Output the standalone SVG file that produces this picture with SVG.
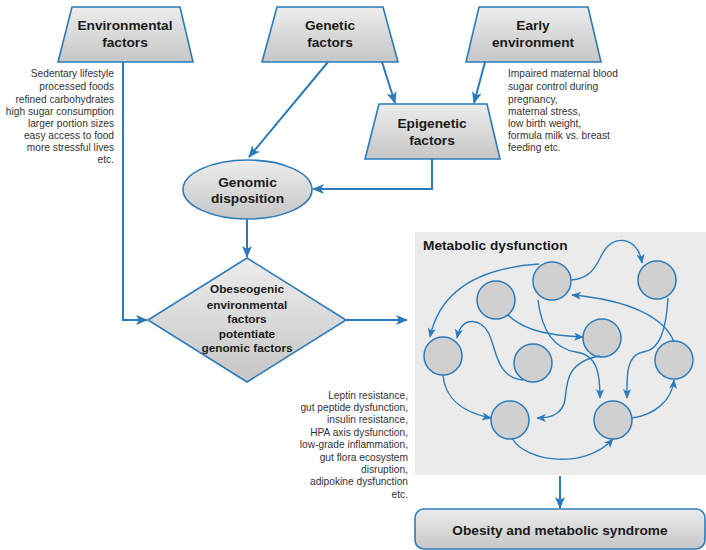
<svg xmlns="http://www.w3.org/2000/svg" width="706" height="550" viewBox="0 0 706 550">
<defs>
<linearGradient id="g" x1="0" y1="0" x2="0" y2="1">
<stop offset="0" stop-color="#ededed"/>
<stop offset="1" stop-color="#c6c6c6"/>
</linearGradient>
<marker id="ah" viewBox="0 0 12 10" refX="11" refY="5" markerWidth="12" markerHeight="10" markerUnits="userSpaceOnUse" orient="auto">
<path d="M0,0 L12,5 L0,10 L3,5 Z" fill="#2b7bba"/>
</marker>
<marker id="as" viewBox="0 0 12 10" refX="11" refY="5" markerWidth="10" markerHeight="8" markerUnits="userSpaceOnUse" orient="auto">
<path d="M0,0 L12,5 L0,10 L3,5 Z" fill="#2b7bba"/>
</marker>
</defs>
<style>
.sh{fill:url(#g);stroke:#2b7bba;stroke-width:1.6}
.c{fill:#d0d0d0;stroke:#2b7bba;stroke-width:1.5}
.lbl{font-family:"Liberation Sans",Arial,sans-serif;font-weight:bold;font-size:13.7px;fill:#1a1a1a;text-anchor:middle}
.dl{font-family:"Liberation Sans",Arial,sans-serif;font-weight:bold;font-size:11.8px;fill:#1a1a1a;text-anchor:middle}
.ttl{font-family:"Liberation Sans",Arial,sans-serif;font-weight:bold;font-size:13.7px;fill:#1a1a1a;text-anchor:start}
.sm{font-family:"Liberation Sans",Arial,sans-serif;font-size:10.2px;fill:#333}
.cn{fill:none;stroke:#2b7bba;stroke-width:2;marker-end:url(#ah)}
.ci{fill:none;stroke:#2b7bba;stroke-width:1.4;marker-end:url(#as)}
</style>
<rect x="415" y="232" width="291" height="243" fill="#ebebeb"/>
<g id="env">
<polygon class="sh" points="72,7 180,7 193,62 58,62"/>
<text class="lbl" x="125" y="30">Environmental</text>
<text class="lbl" x="125" y="47">factors</text>
</g>
<g id="gen">
<polygon class="sh" points="277,7 383,7 398,62 262,62"/>
<text class="lbl" x="330" y="30">Genetic</text>
<text class="lbl" x="330" y="47">factors</text>
</g>
<g id="early">
<polygon class="sh" points="479,7 588,7 601,62 466,62"/>
<text class="lbl" x="533" y="30">Early</text>
<text class="lbl" x="533" y="47">environment</text>
</g>
<g id="epi">
<polygon class="sh" points="379,104 487,104 500,159 365,159"/>
<text class="lbl" x="432" y="128">Epigenetic</text>
<text class="lbl" x="432" y="145">factors</text>
</g>
<g id="genomic">
<ellipse class="sh" cx="247.5" cy="189.5" rx="64.5" ry="29.5"/>
<text class="lbl" x="247.5" y="187">Genomic</text>
<text class="lbl" x="247.5" y="203">disposition</text>
</g>
<g id="obeso">
<polygon class="sh" points="247,258 346,320 247,382 148,320"/>
<text class="dl" x="247" y="292.5">Obeseogenic</text>
<text class="dl" x="247" y="308.5">environmental</text>
<text class="dl" x="247" y="322.5">factors</text>
<text class="dl" x="247" y="337.5">potentiate</text>
<text class="dl" x="247" y="351.5">genomic factors</text>
</g>
<g id="obesity">
<rect class="sh" x="415" y="509" width="290" height="40" rx="9"/>
<text class="lbl" x="560" y="535">Obesity and metabolic syndrome</text>
</g>
<g id="envtext" class="sm" text-anchor="end">
<text x="114" y="77">Sedentary lifestyle</text>
<text x="114" y="90">processed foods</text>
<text x="114" y="103">refined carbohydrates</text>
<text x="114" y="115">high sugar consumption</text>
<text x="114" y="127">larger portion sizes</text>
<text x="114" y="139">easy access to food</text>
<text x="114" y="151">more stressful lives</text>
<text x="114" y="163">etc.</text>
</g>
<g id="earlytext" class="sm">
<text x="508" y="77">Impaired maternal blood</text>
<text x="508" y="90">sugar control during</text>
<text x="508" y="103">pregnancy,</text>
<text x="508" y="115">maternal stress,</text>
<text x="508" y="127">low birth weight,</text>
<text x="508" y="139">formula milk vs. breast</text>
<text x="508" y="151">feeding etc.</text>
</g>
<g id="metatext" class="sm" text-anchor="end">
<text x="408" y="399">Leptin resistance,</text>
<text x="408" y="411">gut peptide dysfunction,</text>
<text x="408" y="423">insulin resistance,</text>
<text x="408" y="436">HPA axis dysfunction,</text>
<text x="408" y="448">low-grade inflammation,</text>
<text x="408" y="461">gut flora ecosystem</text>
<text x="408" y="473">disruption,</text>
<text x="408" y="485">adipokine dysfunction</text>
<text x="408" y="498">etc.</text>
</g>
<g id="meta">
<text class="ttl" x="423" y="250">Metabolic dysfunction</text>
<circle class="c" cx="552" cy="281" r="19"/>
<circle class="c" cx="657" cy="280" r="19"/>
<circle class="c" cx="496" cy="300" r="19"/>
<circle class="c" cx="602" cy="338" r="19"/>
<circle class="c" cx="443" cy="356" r="19"/>
<circle class="c" cx="533" cy="363" r="19"/>
<circle class="c" cx="674" cy="360" r="19"/>
<circle class="c" cx="510" cy="420" r="19"/>
<circle class="c" cx="613" cy="420" r="19"/>
</g>
<g id="connectors">
<path class="cn" d="M123,62 V320 H147"/>
<path class="cn" d="M328,62 L249,157"/>
<path class="cn" d="M382,62 L395,103"/>
<path class="cn" d="M485,62 L474,103"/>
<path class="cn" d="M432,159 V189 H313"/>
<path class="cn" d="M247,219 V257"/>
<path class="cn" d="M346,320 H407"/>
<path class="cn" d="M560,476 V508"/>
<path class="ci" d="M539,264 C480,268 440,290 430,337"/>
<path class="ci" d="M571,280 C598,278 598,255 608,246 C618,236 638,238 642,263"/>
<path class="ci" d="M508,315 C525,332 555,336 583,337"/>
<path class="ci" d="M523,380 C495,378 496,345 488,332 C482,320 462,314 457,338"/>
<path class="ci" d="M538,300 C541,325 550,348 576,352 C598,355 600,375 600,398"/>
<path class="ci" d="M668,298 C666,330 660,350 643,352 C625,355 627,380 627,398"/>
<path class="ci" d="M674,342 C665,318 630,300 572,295"/>
<path class="ci" d="M600,356 C565,362 567,385 565,400 C562,414 552,418 537,418"/>
<path class="ci" d="M443,375 C445,400 465,413 491,418"/>
<path class="ci" d="M512,438 C525,462 585,470 613,439"/>
<path class="ci" d="M632,418 C655,415 672,400 674,380"/>
</g>
</svg>
